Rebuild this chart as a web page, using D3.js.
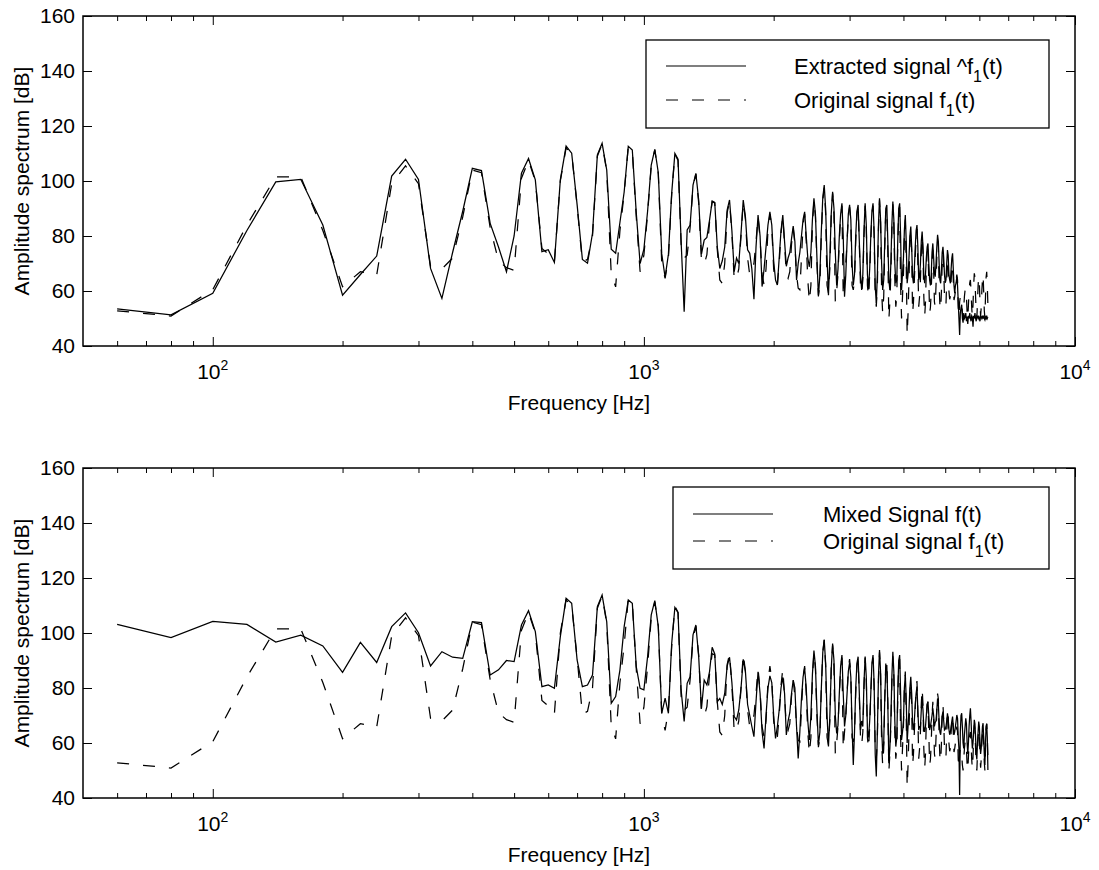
<!DOCTYPE html>
<html><head><meta charset="utf-8">
<script src="https://cdn.jsdelivr.net/npm/d3@7"></script>
<style>
body{margin:0;background:#fff}
svg{display:block}
text{font-family:"Liberation Sans",Arial,Helvetica,sans-serif;fill:#000}
</style>
</head><body>
<svg id="c" width="1099" height="870"></svg>
<script>
// FFT bins: first bin frequency and bin spacing (Hz)
const freqStart = 60, freqStep = 20;

// Extracted signal ^f1(t) [dB], one value per bin (60 Hz ... 6280 Hz)
const extracted = [
 53.5, 51.3, 59.2, 82, 99.7, 100.6, 84, 58.5, 66, 72.7,
 101.8, 107.9, 100.6, 68.2, 57.3, 74, 89, 104.6, 103.8, 84.6,
 76, 67, 80, 102.8, 108.2, 100.4, 74.3, 75, 70.4, 100.4,
 112.7, 110.1, 91.4, 71.5, 70.1, 81, 109.5, 113.7, 104, 75.2,
 73.7, 85, 96, 112.6, 111.3, 88.5, 70, 75.2, 89, 105.8,
 111.5, 103, 73.5, 65, 73.4, 95.5, 110, 107.9, 78, 52.5,
 82.2, 84, 98.5, 102.8, 93.1, 73.4, 78.5, 79.5, 85.8, 92.7,
 92.2, 76, 68.2, 71, 76, 89.4, 93.1, 82, 67, 72,
 70, 81, 93.1, 87, 75, 73.7, 68, 57, 76, 87.6,
 80, 61.6, 68, 76, 84, 88.8, 84, 71, 64, 62.2,
 72, 82, 87.6, 78, 69, 72, 74, 79, 83.6, 78,
 64, 70, 74, 80, 86, 88.8, 80, 72, 68.8, 74,
 86, 93.7, 88, 72, 58, 66, 82, 94, 98.5, 90,
 72, 58.5, 72, 88, 96.1, 90, 74, 62, 68, 80,
 88, 91.9, 80, 57.9, 66, 78, 88, 91.3, 86, 70,
 62, 66, 80, 89, 91.3, 78, 66, 60.4, 66, 82,
 91.9, 84, 66, 61, 68, 80, 89, 91.9, 82, 62,
 55.5, 66, 84, 93.7, 86, 70, 60.4, 64, 78, 90,
 91.3, 78, 64, 60.4, 70, 84, 92.5, 86, 70, 62.8,
 64, 78, 90, 91.9, 80, 60.4, 66.4, 72, 82, 87.6,
 78, 62.8, 66, 72, 80, 83.4, 76, 65.2, 62.8, 68,
 76, 82, 84, 76, 64, 65.2, 70, 78, 81.6, 76,
 66, 62.8, 66, 72, 76, 77.3, 70, 64, 62, 66,
 74, 77.3, 72, 66.4, 65.2, 70, 76, 80.4, 78, 70,
 64, 62.8, 68, 74, 76.1, 72, 66, 63, 64, 70,
 74.9, 73, 66, 64, 62.8, 68, 72, 73.7, 68, 62,
 59.2, 62, 63, 65.2, 62, 56, 50, 44, 52, 54,
 55, 50, 48.5, 52, 50, 50.5, 52, 49, 50.7, 48,
 51, 50, 52, 50, 49, 51, 50.5, 47, 51, 50,
 52, 50, 49, 51, 50.7, 50, 51, 50, 49, 51,
 50.5, 50, 51, 50, 51, 50, 49.5, 50.5, 50, 51,
 50, 50.5
];

// Original signal f1(t) [dB]
const original = [
 52.8, 50.9, 60.5, 84, 101.5, 101.5, 82, 61.6, 67, 65.8,
 99, 105.5, 99, 69, 68, 72, 87, 104, 103, 83,
 71, 68.5, 67.5, 101, 107.5, 100, 75.5, 73.5, 70.5, 100,
 112, 110, 91, 70.5, 71.5, 80, 109, 113.5, 103.5, 66,
 61.5, 82, 95.5, 112.5, 111, 87, 67, 73, 88, 105.5,
 111.3, 102.5, 70, 64.6, 72, 95, 109.8, 107.5, 77, 72,
 73, 83, 98, 102.5, 92, 71, 69.6, 73.2, 85, 92.5,
 92, 75, 64, 62.8, 70, 88.5, 92.5, 81, 64, 64.5,
 68, 80, 92.5, 86, 72, 65.8, 67, 70, 78, 87,
 79, 66, 62.2, 68, 82, 88, 83, 68, 63, 62.2,
 70, 81, 87, 77, 66, 64.6, 67, 77, 83, 77,
 66, 61, 60.4, 72, 84, 88, 78, 64, 56.1, 62,
 84, 93, 87, 70, 58.5, 62, 80, 93, 97.5, 88,
 62, 59.2, 68, 87, 95.5, 88, 56.1, 60, 66, 78,
 87, 91, 57.9, 64, 70, 78, 87, 90.5, 85, 62,
 60.4, 64, 78, 88, 90.5, 77, 62, 59.2, 64, 80,
 91, 83, 62, 57.9, 66, 78, 88, 91, 80, 58,
 54.3, 62, 82, 93, 85, 60, 51.9, 58, 76, 89,
 90, 74, 49.5, 56, 66, 82, 91.5, 84, 64, 54.3,
 58, 76, 89, 90.5, 62, 50, 58, 66, 80, 86,
 70, 44, 52, 64, 78, 82, 74, 51.9, 56, 64,
 72, 80, 82.5, 70, 54.3, 58, 64, 74, 80, 74,
 58, 50.7, 56, 68, 74, 75, 64, 51.9, 54, 60,
 70, 75, 68, 56, 54.3, 62, 72, 78, 76, 62,
 55, 53.1, 60, 70, 74, 68, 58, 55, 54.9, 64,
 72, 70, 60, 57, 58, 64, 68, 70, 64, 56.7,
 58, 60, 64, 66, 64, 54, 50.7, 56, 58, 57.9,
 56, 52, 50, 54, 58, 60.4, 61, 58, 52, 50,
 55, 60, 63, 64, 60, 54, 50.5, 55, 62, 66.4,
 65, 58, 52, 50, 56, 62, 65.2, 63, 56, 51,
 54, 60, 64, 66, 60, 53, 50, 58, 65, 67,
 62, 55
];

// Mixed signal f(t) [dB]
const mixed = [
 103.1, 98.3, 104.2, 103.1, 96.7, 99.2, 95.3, 85.7, 96.6, 89.3,
 102.3, 107.3, 100.1, 88, 93.2, 91.2, 90.8, 104.1, 103.8, 84.7,
 86.6, 90, 89.6, 102.9, 108.1, 100.5, 80.5, 81.1, 79.9, 98.7,
 112.6, 110.8, 90.2, 80.5, 81.1, 84.7, 109.6, 113.8, 104.1, 74.4,
 76.9, 86.6, 102.3, 112, 110.8, 87.8, 79.9, 79.3, 91.4, 106.6,
 111.8, 102.3, 70.8, 76.3, 70.8, 96.2, 109.3, 107.4, 79.3, 67.8,
 81.7, 84.1, 99.3, 102.9, 91.4, 72.6, 82.9, 81.1, 86, 94.8,
 92.4, 75, 76.2, 74, 78, 88, 91.2, 82, 69.6, 68.4,
 72, 80, 90.4, 86, 74, 70, 66, 62.3, 75, 85.9,
 78, 64, 58, 70, 80, 84.4, 82, 70, 61.7, 66,
 72, 80, 83.9, 78, 62.9, 68, 71, 78, 82.9, 80,
 66, 54.4, 64, 76, 84, 87.2, 80, 68, 61.1, 70,
 85, 93.6, 88, 72, 59.3, 64, 80, 93, 97.5, 89,
 70, 58.7, 70, 87, 96.2, 90, 70, 63.5, 66.5, 78,
 88, 92, 78, 66, 70, 78, 86, 89.2, 84, 66,
 52, 64, 80, 89, 91.4, 78, 64.7, 68, 66, 82,
 91.4, 84, 64.7, 62, 68, 78, 89, 92, 82, 56,
 47.8, 64, 84, 93.8, 86, 66, 56.2, 60, 76, 87,
 88.4, 74, 52.6, 58, 68, 84, 93.2, 86, 68, 58.7,
 62, 78, 90, 92, 78, 61.1, 64, 68, 80, 84.7,
 76, 60, 66, 72, 80, 84.1, 78, 67.2, 64.7, 68,
 74, 78, 80.5, 72, 64.7, 66, 66, 72, 75.6, 72,
 66, 64, 66, 70, 74, 75, 70, 64.7, 66, 68,
 70, 72.6, 70, 66, 67.5, 68, 72, 76.2, 74, 68,
 64, 63, 66, 70, 71.4, 68, 64.7, 65, 66, 68,
 70.8, 69, 65, 63, 64, 66, 68, 69.6, 66, 63,
 64, 66, 68, 70.2, 69, 62, 58, 41.1, 64, 70,
 70.8, 66, 60, 58, 63, 66, 69, 67, 60, 56,
 60, 66, 70, 72.6, 68, 62, 58, 60, 64, 68.4,
 67, 62, 56, 54, 60, 64, 67.8, 66, 60, 56,
 58, 62, 66, 67.2, 62, 56, 52, 60, 66, 67,
 62, 50.2
];

const yTicks = [40, 60, 80, 100, 120, 140, 160];
const xMajor = [100, 1000, 10000];
const xMajorExp = ["2", "3", "4"];
const xMinor = [60, 70, 80, 90, 200, 300, 400, 500, 600, 700, 800, 900,
                2000, 3000, 4000, 5000, 6000, 7000, 8000, 9000];
const xTitle = "Frequency [Hz]";
const yTitle = "Amplitude spectrum [dB]";
const legendTop = [
  [{t: "Extracted signal ^f"}, {t: "1", sub: true}, {t: "(t)"}],
  [{t: "Original signal f"}, {t: "1", sub: true}, {t: "(t)"}]
];
const legendBottom = [
  [{t: "Mixed Signal f(t)"}],
  [{t: "Original signal f"}, {t: "1", sub: true}, {t: "(t)"}]
];

const svg = d3.select("#c");
const L = 83, R = 1075;
const x = d3.scaleLog().domain([50, 10000]).range([L, R]);
const freqs = extracted.map((_, i) => freqStart + i * freqStep);

const FS = 21;
const DASH = "12,14";
const LW = 1.25;

const panels = [
  {top: 16, bottom: 346, solid: extracted, legend: legendTop,
   lg: {x: 646, y: 40, w: 403, h: 88, lx0: 666, lx1: 746, tx: 794, rows: [66, 100]}},
  {top: 468, bottom: 798, solid: mixed, legend: legendBottom,
   lg: {x: 673, y: 487, w: 376, h: 82, lx0: 693, lx1: 773, tx: 823, rows: [514, 541]}}
];

panels.forEach(p => {
  const y = d3.scaleLinear().domain([40, 160]).range([p.bottom, p.top]);
  const g = svg.append("g");

  const line = d3.line().x((d, i) => x(freqs[i])).y(d => y(d));

  g.append("path").datum(original).attr("d", line)
    .attr("fill", "none").attr("stroke", "#000").attr("stroke-width", LW)
    .attr("stroke-dasharray", DASH);
  g.append("path").datum(p.solid).attr("d", line)
    .attr("fill", "none").attr("stroke", "#000").attr("stroke-width", LW)
    .attr("stroke-linejoin", "miter");

  // axes (ticks inward)
  const mk = (axis, tr) => {
    const a = g.append("g").attr("transform", tr).call(axis);
    a.select(".domain").remove();
    a.selectAll("line").attr("stroke", "#000").attr("stroke-width", 1);
    return a;
  };
  mk(d3.axisBottom(x).tickValues(xMajor).tickSize(-9).tickFormat(""), `translate(0,${p.bottom})`);
  mk(d3.axisBottom(x).tickValues(xMinor).tickSize(-5).tickFormat(""), `translate(0,${p.bottom})`);
  mk(d3.axisTop(x).tickValues(xMajor).tickSize(-9).tickFormat(""), `translate(0,${p.top})`);
  mk(d3.axisTop(x).tickValues(xMinor).tickSize(-5).tickFormat(""), `translate(0,${p.top})`);
  const ya = mk(d3.axisLeft(y).tickValues(yTicks).tickSize(-9).tickPadding(8).tickFormat(d3.format("d")), `translate(${L},0)`);
  ya.selectAll("text").attr("font-size", FS).attr("font-family", '"Liberation Sans",Arial,sans-serif').attr("fill", "#000");
  mk(d3.axisRight(y).tickValues(yTicks).tickSize(-9).tickFormat(""), `translate(${R},0)`);

  // box
  g.append("rect").attr("x", L).attr("y", p.top).attr("width", R - L).attr("height", p.bottom - p.top)
    .attr("fill", "none").attr("stroke", "#000").attr("stroke-width", 1.5);

  // x tick labels 10^n
  xMajor.forEach((v, i) => {
    const t = g.append("text").attr("x", x(v)).attr("y", p.bottom + 33)
      .attr("text-anchor", "middle").attr("font-size", FS);
    t.append("tspan").text("10");
    t.append("tspan").attr("font-size", 14).attr("dy", -9).text(xMajorExp[i]);
  });

  // titles
  g.append("text").attr("x", (L + R) / 2).attr("y", p.bottom + 64)
    .attr("text-anchor", "middle").attr("font-size", FS).text(xTitle);
  g.append("text").attr("transform", `translate(29,${(p.top + p.bottom) / 2}) rotate(-90)`)
    .attr("text-anchor", "middle").attr("font-size", FS).text(yTitle);

  // legend
  const lg = p.lg;
  g.append("rect").attr("x", lg.x).attr("y", lg.y).attr("width", lg.w).attr("height", lg.h)
    .attr("fill", "#fff").attr("stroke", "#000").attr("stroke-width", 1.3);
  p.legend.forEach((parts, r) => {
    const yy = lg.rows[r];
    g.append("line").attr("x1", lg.lx0).attr("x2", lg.lx1).attr("y1", yy).attr("y2", yy)
      .attr("stroke", "#000").attr("stroke-width", 1.1)
      .attr("stroke-dasharray", r === 1 ? DASH : null);
    const t = g.append("text").attr("x", lg.tx).attr("y", yy + 8).attr("font-size", FS + 1);
    let shifted = 0;
    parts.forEach(s => {
      const ts = t.append("tspan").text(s.t);
      if (s.sub) { ts.attr("font-size", 16).attr("dy", 8); shifted = 8; }
      else if (shifted) { ts.attr("dy", -shifted); shifted = 0; }
    });
  });
});
</script>
</body></html>
